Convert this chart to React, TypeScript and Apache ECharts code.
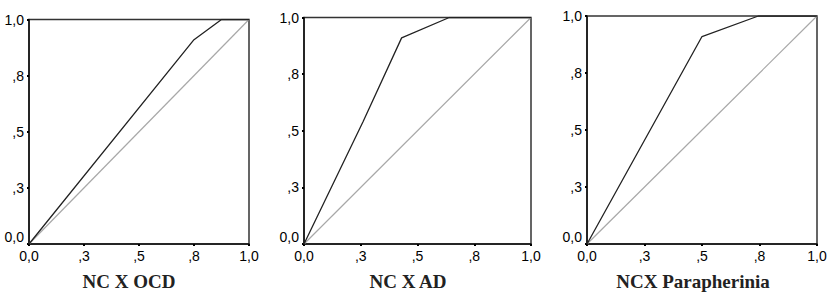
import React, { useEffect, useRef } from "react";
import * as echarts from "echarts";

const tickValues = [0, 0.25, 0.5, 0.75, 1];
const tickLabels = ["0,0", ",3", ",5", ",8", "1,0"];
const panelTitles = ["NC X OCD", "NC X AD", "NCX Parapherinia"];
const ocdCurve: number[][] = [[0, 0], [0.75, 0.91], [0.875, 1], [1, 1]];
const adCurve: number[][] = [[0, 0], [0.26, 0.54], [0.43, 0.91], [0.64, 1], [1, 1]];
const paraCurve: number[][] = [[0, 0], [0.5, 0.91], [0.745, 1], [1, 1]];
const referenceLine: number[][] = [[0, 0], [1, 1]];

const curves = [ocdCurve, adCurve, paraCurve];

const grids = [
  { left: 29, top: 19.5, width: 220, height: 224.5 },
  { left: 304, top: 17.5, width: 227, height: 226.5 },
  { left: 587, top: 16, width: 230, height: 228 },
];
const titlePos = [{ x: 129, y: 281 }, { x: 408, y: 281 }, { x: 693, y: 281 }];

const fmt = (v: number) => {
  const i = tickValues.findIndex((t) => Math.abs(t - v) < 1e-6);
  return i >= 0 ? tickLabels[i] : "";
};

export default function App() {
  const ref = useRef<HTMLDivElement>(null);
  useEffect(() => {
    if (!ref.current) return;
    const chart = echarts.init(ref.current, undefined, { renderer: "svg" });
    const axisCommon = {
      type: "value" as const,
      min: 0,
      max: 1,
      interval: 0.25,
      splitLine: { show: false },
      axisLine: { show: true, lineStyle: { color: "#111", width: 1.5 } },
      axisTick: { show: true, length: 2, lineStyle: { color: "#000", width: 2 } },
    };
    const labelStyle = {
      color: "#000",
      fontFamily: "Liberation Sans, Arial, sans-serif",
      fontSize: 14,
      formatter: fmt,
    };
    chart.setOption({
      animation: false,
      backgroundColor: "#fff",
      grid: grids.map((g) => ({
        ...g,
        show: true,
        borderColor: "#333",
        borderWidth: 1.5,
        backgroundColor: "transparent",
      })),
      xAxis: grids.map((_, i) => ({
        ...axisCommon,
        gridIndex: i,
        axisLabel: { ...labelStyle, margin: 5 },
      })),
      yAxis: grids.map((_, i) => ({
        ...axisCommon,
        gridIndex: i,
        axisLabel: { ...labelStyle, margin: 5, verticalAlignMinLabel: "bottom" },
      })),
      series: [
        ...curves.map((c, i) => ({
          type: "line",
          xAxisIndex: i,
          yAxisIndex: i,
          data: referenceLine,
          symbol: "none",
          silent: true,
          lineStyle: { color: "#a8a8a8", width: 1.2 },
          z: 2,
        })),
        ...curves.map((c, i) => ({
          type: "line",
          xAxisIndex: i,
          yAxisIndex: i,
          data: c,
          symbol: "none",
          silent: true,
          lineStyle: { color: "#222", width: 1.3 },
          z: 3,
        })),
      ],
      graphic: panelTitles.map((t, i) => ({
        type: "text",
        x: titlePos[i].x,
        y: titlePos[i].y,
        style: {
          text: t,
          align: "center",
          verticalAlign: "middle",
          font: 'bold 19px "Liberation Serif", "Times New Roman", serif',
          fill: "#222",
        },
      })),
    });
    return () => chart.dispose();
  }, []);
  return (
    <div
      ref={ref}
      style={{ position: "fixed", left: 0, top: 0, width: 839, height: 304 }}
    />
  );
}
